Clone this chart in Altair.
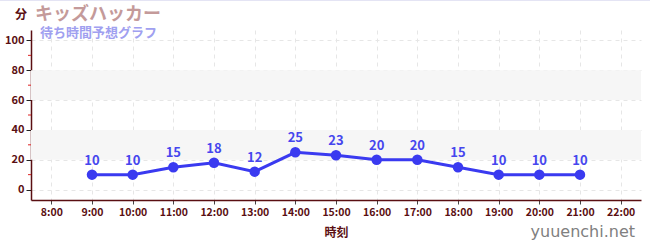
import altair as alt
import pandas as pd

hours = [9, 10, 11, 12, 13, 14, 15, 16, 17, 18, 19, 20, 21]
waits = [10, 10, 15, 18, 12, 25, 23, 20, 20, 15, 10, 10, 10]
band_lo = [20, 60]
band_hi = [40, 80]
x_ticks = list(range(8, 23))
y_ticks = [0, 20, 40, 60, 80, 100]
y_minor = [10, 30, 50, 70, 90]

FONT = "Noto Sans CJK JP"
DARK = "#5a0f12"

df = pd.DataFrame({"h": hours, "w": waits})
bands = pd.DataFrame({"lo": band_lo, "hi": band_hi})
minor = pd.DataFrame({"m": y_minor})

xs = alt.Scale(domain=[7.5, 22.5], nice=False, zero=False)
ys = alt.Scale(domain=[-7, 107], nice=False, zero=False)

XAX = alt.Axis(values=x_ticks, labelExpr="datum.value + ':00'",
               grid=True, gridColor="#e6e6e6", gridDash=[4, 4],
               domainColor=DARK, domainWidth=1.5, tickColor="#444",
               tickSize=4, labelColor=DARK, labelFont=FONT,
               labelFontSize=10.5, labelFontWeight="bold",
               titleFont=FONT, titleFontSize=12, titleFontWeight="bold",
               titleColor=DARK, titlePadding=10, labelPadding=3)
YAX = alt.Axis(values=y_ticks, grid=True, gridColor="#e6e6e6",
               gridDash=[4, 4], domainColor=DARK, domainWidth=1.5,
               tickColor="#222", tickSize=5, labelColor=DARK,
               labelFont=FONT, labelFontSize=11, labelFontWeight="bold",
               labelPadding=2)

X = alt.X("h:Q", scale=xs, title="時刻", axis=XAX)
Y = alt.Y("w:Q", scale=ys, title=None, axis=YAX)

band = alt.Chart(bands).mark_rect(color="#f6f6f6").encode(
    y=alt.Y("lo:Q", scale=ys, title=None, axis=YAX), y2="hi:Q",
)

minor_ticks = alt.Chart(minor).mark_rule(color="#dd2222", strokeWidth=1).encode(
    y=alt.Y("m:Q", scale=ys, title=None, axis=YAX),
    x=alt.value(-3), x2=alt.value(0),
)

line = alt.Chart(df).mark_line(color="#3a3af0", strokeWidth=3).encode(x=X, y=Y)
pts = alt.Chart(df).mark_circle(color="#3a3af0", size=110, opacity=1).encode(x=X, y=Y)
labels = alt.Chart(df).mark_text(color="#4646ee", font=FONT, fontSize=13,
                                 fontWeight="bold", dy=-14).encode(
    x=X, y=Y, text="w:Q",
)

texts = pd.DataFrame({
    "t": ["分", "キッズハッカー", "待ち時間予想グラフ", "yuuenchi.net"],
    "px": [-16, 4, 9, 604],
    "py": [-15, -15, 3, 202],
})

def txt(i, color, size, align="left", font=FONT, weight="bold"):
    d = texts.iloc[[i]]
    return alt.Chart(d).mark_text(color=color, font=font, fontSize=size,
                                  fontWeight=weight, align=align,
                                  baseline="middle").encode(
        x=alt.value(float(d.px.iloc[0])), y=alt.value(float(d.py.iloc[0])), text="t:N")

t0 = txt(0, DARK, 12)
t1 = txt(1, "#c49a9a", 18)
t2 = txt(2, "#a0a0f0", 13)
t3 = txt(3, "#808080", 16, align="right", font="DejaVu Sans", weight="normal")

topline = alt.Chart(texts.iloc[[0]]).mark_rule(color="#e4e4f4", strokeWidth=2).encode(
    x=alt.value(-31), x2=alt.value(619), y=alt.value(-30))

chart = alt.layer(band, line, pts, labels, minor_ticks, t0, t1, t2, t3, topline).properties(
    width=610, height=170,
    padding={"left": 31, "top": 30, "right": 9, "bottom": 50},
    autosize=alt.AutoSizeParams(type="none"),
).configure_view(stroke=None)

chart.save("out.html", embed_options={"renderer": "svg", "actions": False})
